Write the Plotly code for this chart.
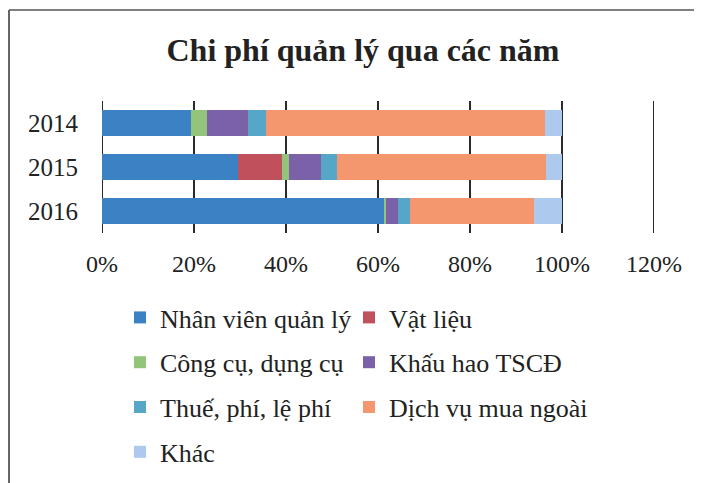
import plotly.graph_objects as go

years = ["2014", "2015", "2016"]
series_names = ["Nhân viên quản lý", "Vật liệu", "Công cụ, dụng cụ", "Khấu hao TSCĐ",
                "Thuế, phí, lệ phí", "Dịch vụ mua ngoài", "Khác"]
nhan_vien = [19.3, 29.6, 61.2]
vat_lieu = [0.0, 9.6, 0.0]
cong_cu = [3.6, 1.5, 0.5]
khau_hao = [8.9, 6.8, 2.7]
thue_phi = [3.9, 3.5, 2.6]
dich_vu = [60.6, 45.5, 26.9]
khac = [3.7, 3.5, 6.1]
x_ticks = [0, 0.2, 0.4, 0.6, 0.8, 1.0, 1.2]

series_values = [nhan_vien, vat_lieu, cong_cu, khau_hao, thue_phi, dich_vu, khac]
colors = ["#3b82c4", "#c0505c", "#92c47a", "#7b62a8", "#56a6c8", "#f5976e", "#adc9ee"]
legend_ids = ["legend", "legend2", "legend", "legend2", "legend", "legend2", "legend"]

FONT = "Liberation Serif, Times New Roman, serif"

fig = go.Figure()
for i, (name, vals) in enumerate(zip(series_names, series_values)):
    total = [sum(v[j] for v in series_values) for j in range(len(years))]
    fig.add_trace(go.Bar(
        y=years, x=[v / t for v, t in zip(vals, total)], name=name, orientation="h",
        marker=dict(color=colors[i], line=dict(width=0)),
        legend=legend_ids[i], legendgroup=name,
    ))

W, H = 702, 483
L, R, T, B = 94, 56, 93, 258
pw, ph = W - L - R, H - T - B

def px_x(px):
    return (px - L) / pw

def px_y(py):
    return (H - B - py) / ph

grid_shapes = [
    dict(type="line", xref="x", yref="paper", x0=v, x1=v, y0=0, y1=1, layer="below",
         line=dict(color="#2a2a2a", width=2))
    for v in x_ticks
]

fig.update_layout(
    width=W, height=H,
    margin=dict(l=L, r=R, t=T, b=B, autoexpand=False),
    paper_bgcolor="white", plot_bgcolor="white",
    barmode="stack", bargap=0.43,
    font=dict(family=FONT, color="#222222", size=24),
    title=dict(text="<b>Chi phí quản lý qua các năm</b>", x=355 / W, xanchor="center",
               y=1 - 42 / H, yanchor="middle", font=dict(family=FONT, size=32, color="#222222")),
    xaxis=dict(range=[0, 1.2], tickvals=x_ticks, tickformat=".0%", showgrid=False,
               zeroline=False, showline=False, ticks="outside", ticklen=9,
               tickcolor="rgba(0,0,0,0)", tickfont=dict(size=24)),
    yaxis=dict(autorange="reversed", showgrid=False, zeroline=False, showline=False,
               ticks="outside", ticklen=18, tickcolor="rgba(0,0,0,0)", tickfont=dict(size=25)),
    legend=dict(x=112 / W, y=1 - 286 / H, xref="container", yref="container",
                xanchor="left", yanchor="top", orientation="v",
                tracegroupgap=8, font=dict(size=26), bgcolor="rgba(0,0,0,0)"),
    legend2=dict(x=341 / W, y=1 - 286 / H, xref="container", yref="container",
                 xanchor="left", yanchor="top", orientation="v",
                 tracegroupgap=8, font=dict(size=26), bgcolor="rgba(0,0,0,0)"),
    shapes=grid_shapes + [
        dict(type="line", xref="paper", yref="paper", x0=px_x(1), x1=px_x(1), y0=px_y(2), y1=px_y(490),
             line=dict(color="#333333", width=1.5)),
        dict(type="line", xref="paper", yref="paper", x0=px_x(1), x1=px_x(710), y0=px_y(2), y1=px_y(2),
             line=dict(color="#555555", width=1.5)),
    ],
)

fig.write_html("out.html")
